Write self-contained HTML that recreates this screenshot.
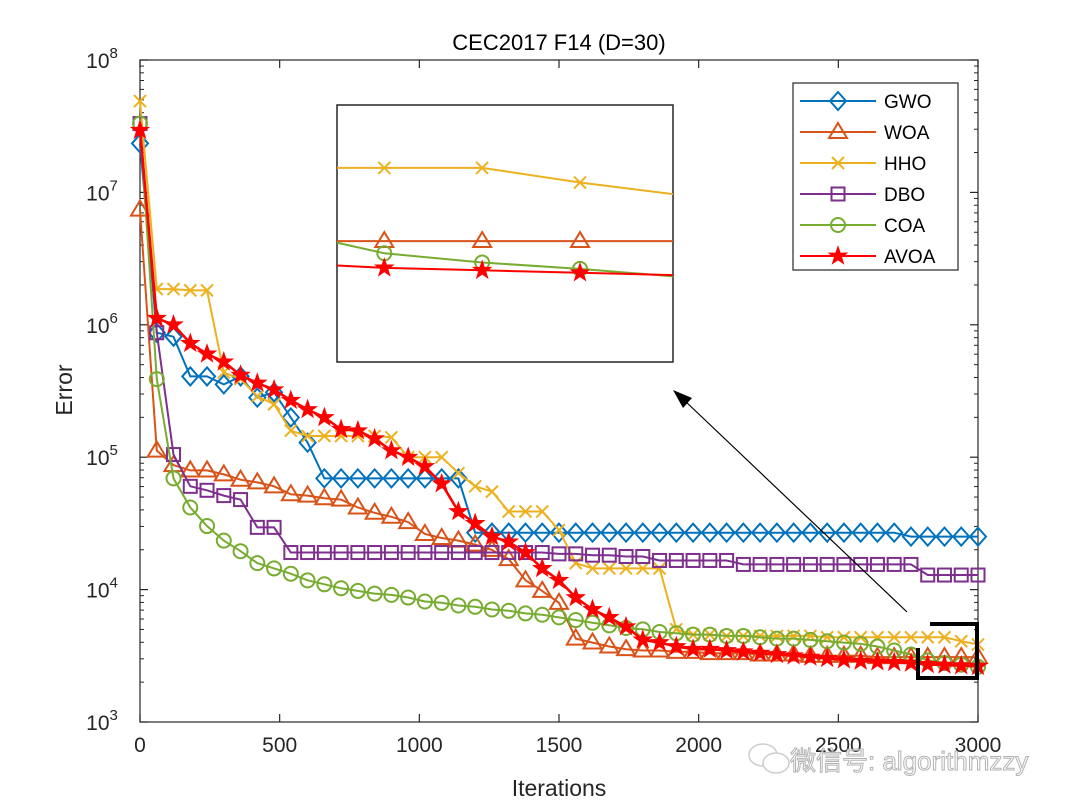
<!DOCTYPE html>
<html><head><meta charset="utf-8">
<style>
html,body{margin:0;padding:0;background:#fff;}
svg{display:block;font-family:"Liberation Sans","Noto Sans CJK SC",sans-serif;}
</style></head>
<body>
<svg id="chart" width="1080" height="810" viewBox="0 0 1080 810">
<rect x="0" y="0" width="1080" height="810" fill="#fff"/>
<g id="main-layer"></g>
</svg>
<script>
// iterations at which markers/points are recorded
const iterations = Array.from({length:51},(_,i)=>i*60);
// log10(error) per algorithm
const gwoLog  = [7.37,5.94,5.91,5.61,5.61,5.55,5.61,5.45,5.49,5.30,5.11,4.84,4.84,4.84,4.84,4.84,4.84,4.84,4.84,4.84,4.43,4.43,4.43,4.43,4.43,4.43,4.43,4.43,4.43,4.43,4.43,4.43,4.43,4.43,4.43,4.43,4.43,4.43,4.43,4.43,4.43,4.43,4.43,4.43,4.43,4.43,4.40,4.40,4.40,4.40,4.40];
const woaLog  = [6.87,5.05,4.94,4.90,4.90,4.87,4.83,4.81,4.78,4.72,4.71,4.69,4.68,4.62,4.58,4.55,4.51,4.42,4.39,4.37,4.34,4.30,4.23,4.07,3.99,3.90,3.63,3.60,3.57,3.55,3.54,3.54,3.53,3.53,3.52,3.52,3.52,3.51,3.51,3.51,3.50,3.50,3.50,3.50,3.49,3.49,3.49,3.49,3.49,3.49,3.49];
const hhoLog  = [7.69,6.27,6.27,6.26,6.26,5.64,5.59,5.46,5.40,5.20,5.16,5.16,5.16,5.16,5.16,5.15,5.00,5.00,5.00,4.88,4.78,4.74,4.59,4.59,4.59,4.45,4.20,4.16,4.16,4.16,4.16,4.16,3.70,3.66,3.66,3.65,3.65,3.65,3.65,3.65,3.65,3.64,3.64,3.64,3.64,3.64,3.64,3.64,3.64,3.61,3.585];
const dboLog  = [7.52,5.94,5.02,4.78,4.75,4.71,4.68,4.47,4.47,4.28,4.28,4.28,4.28,4.28,4.28,4.28,4.28,4.28,4.28,4.28,4.28,4.28,4.28,4.28,4.28,4.27,4.27,4.26,4.26,4.25,4.25,4.22,4.22,4.22,4.22,4.22,4.19,4.19,4.19,4.19,4.19,4.19,4.19,4.19,4.19,4.19,4.19,4.11,4.11,4.11,4.11];
const coaLog  = [7.52,5.59,4.84,4.62,4.48,4.37,4.29,4.20,4.16,4.12,4.07,4.04,4.01,3.99,3.97,3.96,3.94,3.91,3.90,3.88,3.87,3.85,3.84,3.82,3.81,3.79,3.77,3.75,3.73,3.71,3.70,3.68,3.67,3.66,3.66,3.65,3.65,3.64,3.63,3.63,3.62,3.61,3.60,3.59,3.57,3.54,3.51,3.465,3.446,3.433,3.417];
const avoaLog = [7.47,6.05,6.00,5.86,5.78,5.72,5.62,5.56,5.51,5.43,5.36,5.30,5.21,5.20,5.14,5.05,5.00,4.93,4.80,4.59,4.50,4.40,4.36,4.28,4.16,4.07,3.94,3.85,3.79,3.72,3.62,3.60,3.57,3.55,3.55,3.54,3.53,3.52,3.51,3.50,3.49,3.48,3.47,3.46,3.455,3.45,3.445,3.435,3.43,3.425,3.42];
const seriesNames = ["GWO","WOA","HHO","DBO","COA","AVOA"];
const xTicks = [0,500,1000,1500,2000,2500,3000];
const yTickExp = [3,4,5,6,7,8];

const NS="http://www.w3.org/2000/svg";
const svg=document.getElementById('main-layer');
function mk(tag,attrs,parent){const e=document.createElementNS(NS,tag);for(const k in attrs)e.setAttribute(k,attrs[k]);(parent||svg).appendChild(e);return e;}
const L=140,R=978,T=60,B=722;
const xs=v=>L+(v/3000)*(R-L);
const ys=lv=>B-(lv-3)/5*(B-T);
// inset axes
const IL=337,IR=673,IT=105,IB=362,IX0=2791,IX1=2997,IY0=3.242,IY1=3.769;
const ixs=v=>IL+(v-IX0)/(IX1-IX0)*(IR-IL);
const iys=lv=>IB-(lv-IY0)/(IY1-IY0)*(IB-IT);

const data=[gwoLog,woaLog,hhoLog,dboLog,coaLog,avoaLog];
const colors=["#0072BD","#D95319","#EDB120","#7E2F8E","#77AC30","#FF0000"];
const kinds=["diamond","triangle","x","square","circle","star"];

function marker(g,kind,x,y,color){
  let e;
  if(kind==="diamond"){e=mk('polygon',{points:`${x},${y-9} ${x+8},${y} ${x},${y+9} ${x-8},${y}`,fill:'none',stroke:color,'stroke-width':2},g);}
  else if(kind==="triangle"){e=mk('polygon',{points:`${x},${y-9} ${x+9},${y+6} ${x-9},${y+6}`,fill:'none',stroke:color,'stroke-width':2},g);}
  else if(kind==="x"){e=mk('path',{d:`M${x-6},${y-6}L${x+6},${y+6}M${x-6},${y+6}L${x+6},${y-6}`,stroke:color,'stroke-width':2},g);}
  else if(kind==="square"){e=mk('rect',{x:x-6.5,y:y-6.5,width:13,height:13,fill:'none',stroke:color,'stroke-width':2},g);}
  else if(kind==="circle"){e=mk('circle',{cx:x,cy:y,r:7,fill:'none',stroke:color,'stroke-width':2},g);}
  else {let p=[];for(let k=0;k<10;k++){const r=k%2?3.6:9,a=-Math.PI/2+k*Math.PI/5;p.push((x+r*Math.cos(a)).toFixed(1)+','+(y+r*Math.sin(a)).toFixed(1));}
    e=mk('polygon',{points:p.join(' '),fill:color,stroke:color,'stroke-width':1.2},g);}
  
  
}

// axes box
const box=mk('rect',{x:L,y:T,width:R-L,height:B-T,fill:'none',stroke:'#262626','stroke-width':1.2});



// ticks
xTicks.forEach(v=>{
  const x=xs(v);
  mk('line',{x1:x,y1:B,x2:x,y2:B-8,stroke:'#262626','stroke-width':1.2});
  mk('line',{x1:x,y1:T,x2:x,y2:T+8,stroke:'#262626','stroke-width':1.2});
  const t=mk('text',{x:x,y:B+30,'text-anchor':'middle','font-size':21,fill:'#262626'});t.textContent=v;
  
  
});
yTickExp.forEach(e=>{
  const y=ys(e);
  mk('line',{x1:L,y1:y,x2:L+8,y2:y,stroke:'#262626','stroke-width':1.2});
  mk('line',{x1:R,y1:y,x2:R-8,y2:y,stroke:'#262626','stroke-width':1.2});
  if(e<8){for(let m=2;m<10;m++){const yy=ys(e+Math.log10(m));
    mk('line',{x1:L,y1:yy,x2:L+4,y2:yy,stroke:'#262626','stroke-width':1});
    mk('line',{x1:R,y1:yy,x2:R-4,y2:yy,stroke:'#262626','stroke-width':1});}}
  const t=mk('text',{x:L-38,y:y+8,'text-anchor':'middle','font-size':21,fill:'#262626'});
  t.textContent='10';
  const s=mk('tspan',{dy:-10,'font-size':15},t);s.textContent=e;
  
  
});

// series
data.forEach((d,si)=>{
  const g=mk('g',{});
  
  
  const pts=d.map((lv,i)=>xs(iterations[i]).toFixed(1)+','+ys(lv).toFixed(1)).join(' ');
  mk('polyline',{points:pts,fill:'none',stroke:colors[si],'stroke-width':si===5?2.6:2},g);
  d.forEach((lv,i)=>marker(g,kinds[si],xs(iterations[i]),ys(lv),colors[si]));
});

// zoom bracket
const br=mk('path',{d:`M930,624 L977,624 L977,678 L918,678 L918,648`,fill:'none',stroke:'#000','stroke-width':4});



// inset
const ig=mk('g',{});


mk('rect',{x:IL,y:IT,width:IR-IL,height:IB-IT,fill:'#fff',stroke:'#262626','stroke-width':1.5},ig);
mk('clipPath',{id:'ic'},ig);
mk('rect',{x:IL,y:IT,width:IR-IL,height:IB-IT},document.getElementById('ic'));
const ic=mk('g',{'clip-path':'url(#ic)'},ig);
data.forEach((d,si)=>{
  const g=mk('g',{},ic);
  
  
  const pts=d.map((lv,i)=>ixs(iterations[i]).toFixed(1)+','+iys(lv).toFixed(1)).join(' ');
  mk('polyline',{points:pts,fill:'none',stroke:colors[si],'stroke-width':2},g);
  d.forEach((lv,i)=>{if(iterations[i]>=IX0&&iterations[i]<=IX1)marker(g,kinds[si],ixs(iterations[i]),iys(lv),colors[si]);});
});

// arrow
const ar=mk('g',{});


mk('line',{x1:907,y1:612,x2:684,y2:400,stroke:'#000','stroke-width':1.2},ar);
mk('polygon',{points:'673,390 692,398 683,408',fill:'#000'},ar);

// legend
const lg=mk('g',{});


mk('rect',{x:793,y:83,width:165,height:187,fill:'#fff',stroke:'#262626','stroke-width':1.2},lg);
seriesNames.forEach((n,si)=>{
  const y=101+si*31;
  const e=mk('g',{},lg);
  
  
  mk('line',{x1:800,y1:y,x2:876,y2:y,stroke:colors[si],'stroke-width':2},e);
  marker(e,kinds[si],838,y,colors[si]);
  const t=mk('text',{x:884,y:y+7,'font-size':19,fill:'#000'},e);t.textContent=n;
});
</script>
<svg style="position:absolute;left:0;top:0" width="1080" height="810">
<text x="559" y="50" text-anchor="middle" font-size="22" fill="#000" font-family="Liberation Sans, sans-serif">CEC2017 F14 (D=30)</text>
<text x="559" y="796" text-anchor="middle" font-size="23" fill="#262626" font-family="Liberation Sans, sans-serif">Iterations</text>
<text x="0" y="0" transform="translate(72,390) rotate(-90)" text-anchor="middle" font-size="23" fill="#262626" font-family="Liberation Sans, sans-serif">Error</text>
<g opacity="0.75">
<ellipse cx="763" cy="755" rx="14" ry="11" fill="none" stroke="#bbb" stroke-width="1.5"/>
<ellipse cx="776" cy="763" rx="13" ry="10" fill="#fff" stroke="#bbb" stroke-width="1.5"/>
<text x="790" y="770" font-size="26" fill="#fff" stroke="#999" stroke-width="1" font-family="Liberation Sans, Noto Sans CJK SC, sans-serif">微信号: algorithmzzy</text>
</g>
</svg>
</body></html>
